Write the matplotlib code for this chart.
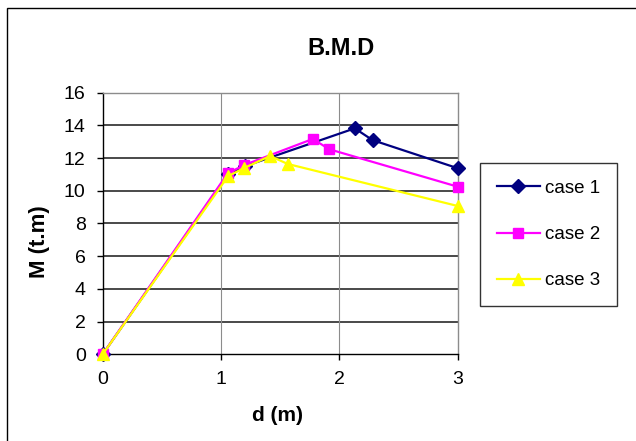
import matplotlib
matplotlib.use("Agg")
import matplotlib.pyplot as plt
from matplotlib.patches import Rectangle

plt.rcParams['font.family'] = ['Liberation Sans', 'DejaVu Sans']

# bending moment along the member for the three load cases
d_case1 = [0, 1.06, 1.2, 2.13, 2.28, 3.0]
m_case1 = [0, 11.0, 11.5, 13.82, 13.1, 11.38]

d_case2 = [0, 1.057, 1.197, 1.775, 1.915, 3.0]
m_case2 = [0, 11.07, 11.58, 13.17, 12.54, 10.25]

d_case3 = [0, 1.06, 1.197, 1.414, 1.564, 3.0]
m_case3 = [0, 10.9, 11.4, 12.13, 11.64, 9.07]

labels = ["case 1", "case 2", "case 3"]

fig = plt.figure(figsize=(6.36, 4.41), dpi=100)
ax = fig.add_axes([0.1615, 0.1966, 0.5582, 0.5932])

# outer chart frame (only top and left edges fall inside the image)
fig.patches.append(Rectangle((7 / 636, -0.2), 1.2, 1.2 - 8 / 441,
                             transform=fig.transFigure, fill=False,
                             edgecolor='black', linewidth=1.0))

ax.plot(d_case1, m_case1, color='#000080', marker='D', markersize=7,
        linewidth=1.6, label=labels[0], zorder=3, clip_on=False)
ax.plot(d_case2, m_case2, color='#FF00FF', marker='s', markersize=7.2,
        linewidth=1.6, label=labels[1], zorder=4, clip_on=False)
ax.plot(d_case3, m_case3, color='#FFFF00', marker='^', markersize=8,
        linewidth=1.6, label=labels[2], zorder=5, clip_on=False)

ax.set_xlim(0, 3)
ax.set_ylim(0, 16)
ax.set_xticks([0, 1, 2, 3])
ax.set_yticks(range(0, 17, 2))

for y in range(2, 16, 2):
    ax.axhline(y, color='#3a3a3a', linewidth=1.3, zorder=1)
for x in [1, 2]:
    ax.axvline(x, color='#8c8c8c', linewidth=0.8, zorder=1)

ax.spines['left'].set_color('black')
ax.spines['bottom'].set_color('black')
ax.spines['top'].set_color('#8c8c8c')
ax.spines['right'].set_color('#8c8c8c')
for s in ax.spines.values():
    s.set_linewidth(1.0)

ax.tick_params(axis='both', direction='out', length=4.3, width=1.0,
               color='black', pad=8, labelsize=14)

fig.text(341 / 636, 1 - 55 / 441, "B.M.D", ha='center', va='baseline',
         fontsize=17, fontweight='bold')
fig.text(277 / 636, 1 - 421 / 441, "d (m)", ha='center', va='baseline',
         fontsize=15, fontweight='bold')
fig.text(39 / 636, 1 - 242 / 441, "M (t.m)", ha='center', va='center',
         rotation=90, fontsize=16, fontweight='bold')

leg = ax.legend(loc='upper left', bbox_to_anchor=(480 / 636, 1 - 163 / 441),
                bbox_transform=fig.transFigure,
                fontsize=13.5, frameon=True, fancybox=False,
                edgecolor='black', borderpad=0.9, labelspacing=1.55,
                handlelength=2.3, handletextpad=0.25, borderaxespad=0)
leg.get_frame().set_linewidth(1.0)

fig.savefig("out.png", dpi=100)
